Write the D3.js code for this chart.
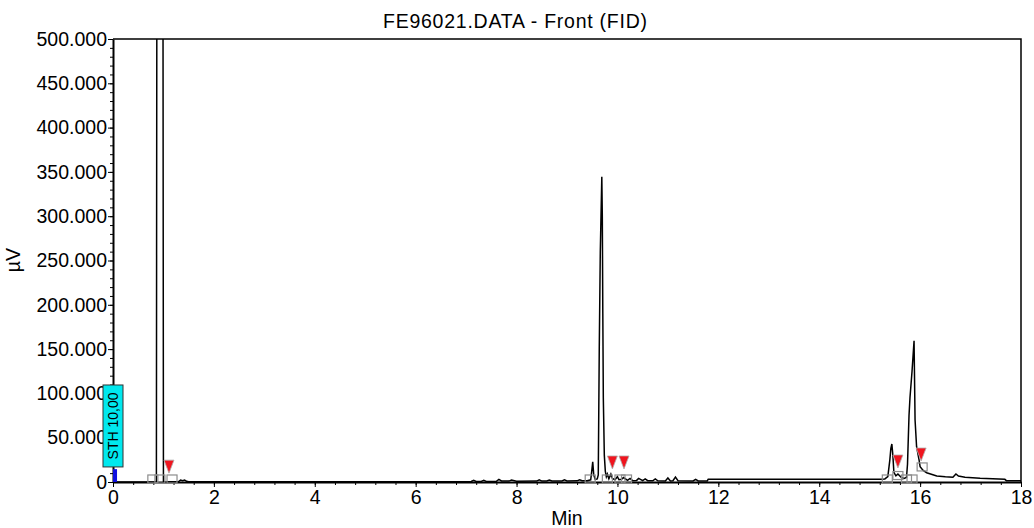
<!DOCTYPE html>
<html>
<head>
<meta charset="utf-8">
<script src="https://cdn.jsdelivr.net/npm/d3@7"></script>
<style>
  body { margin: 0; background: #fff; }
  text { font-family: "Liberation Sans", Arial, sans-serif; fill: #000; }
</style>
</head>
<body>
<div id="chart"></div>
<script>
// chromatogram trace, time in min / signal in µV
const traceTimes = [0, 0.86, 0.885, 0.975, 1.0, 1.3, 1.34, 1.38, 1.42, 1.46, 1.5, 4.0,
  7.1, 7.15, 7.2, 7.3, 7.35, 7.4, 7.6, 7.65, 7.7, 7.85, 7.9, 8.0, 8.4, 8.45, 8.5, 8.6, 8.65, 8.7,
  8.9, 8.95, 9.0, 9.2, 9.25, 9.3, 9.4, 9.47, 9.49, 9.51, 9.53, 9.56, 9.6, 9.62, 9.64, 9.66, 9.69,
  9.70, 9.71, 9.72, 9.74, 9.76, 9.78, 9.80, 9.83, 9.87, 9.9, 9.95, 10.0, 10.03, 10.08, 10.12,
  10.2, 10.25, 10.3, 10.38, 10.42, 10.5, 10.55, 10.6, 10.7, 10.75, 10.8, 10.95, 11.0, 11.05,
  11.1, 11.15, 11.2, 11.5, 11.55, 11.6, 11.78, 11.8, 13.0, 15.2, 15.3, 15.36, 15.4, 15.42,
  15.44, 15.46, 15.48, 15.52, 15.56, 15.62, 15.68, 15.73, 15.75, 15.78, 15.80, 15.84, 15.88,
  15.90, 15.93, 15.98, 16.0, 16.06, 16.13, 16.33, 16.5, 16.65, 16.71, 16.76, 16.89, 17.19,
  17.68, 17.71, 18.0];
const traceValues = [0, 0, 1500000, 1500000, 0, 500, 2200, 1500, 2200, 800, 300, 300,
  500, 1800, 600, 700, 2000, 700, 800, 3000, 1200, 1000, 2200, 900, 1000, 2500, 1000, 1100, 2300, 1100,
  1200, 2500, 1200, 1300, 2600, 1400, 1500, 2500, 12000, 22900, 8000, 3000, 3500, 8000, 152800, 260000, 344600,
  300000, 190000, 95000, 30000, 12000, 6000, 9000, 3500, 9000, 4000, 2500, 6000, 2500, 3000, 5000,
  1800, 4000, 1500, 1800, 4000, 1500, 3500, 1500, 1300, 3500, 1300, 1200, 4500, 1200,
  1500, 5500, 1500, 1200, 3000, 1200, 1200, 3200, 3200, 3200, 3500, 6000, 25000, 38000,
  42900, 30000, 11000, 7000, 9000, 5500, 4000, 5000, 20000, 75000, 96000, 125000, 159500,
  70000, 39800, 24800, 17300, 13000, 10500, 6800, 5800, 5300, 9000, 6700, 5300, 4100,
  3000, 1500, 1500];

// integration baseline marks (grey boxes) and peak marks (red triangles)
const boxTimes = [0.79, 0.93, 1.17, 9.46, 9.80, 10.05, 10.18, 15.35, 15.56, 15.73, 15.84, 16.04];
const boxValues = [3400, 3400, 3400, 3400, 3400, 3400, 3400, 3400, 7300, 3400, 3400, 17000];
const peakTimes = [1.11, 9.90, 10.13, 15.56, 16.02];
const peakValues = [10000, 14700, 14700, 15800, 23700];

const xTicks = [0, 2, 4, 6, 8, 10, 12, 14, 16, 18];
const yTicks = [0, 50000, 100000, 150000, 200000, 250000, 300000, 350000, 400000, 450000, 500000];
const stLabel = "STH 10,00";

const margin = {top: 39, right: 13, bottom: 46, left: 113},
    width = 1034 - margin.left - margin.right,
    height = 528 - margin.top - margin.bottom;

const svg = d3.select("#chart").append("svg")
    .attr("width", 1034)
    .attr("height", 528);

const x = d3.scaleLinear().domain([0, 18]).range([margin.left, margin.left + width]);
const y = d3.scaleLinear().domain([0, 500000]).range([margin.top + height, margin.top]);

const fmt = d3.formatLocale({decimal: ",", thousands: ".", grouping: [3], currency: ["", ""]}).format(",");

// title
svg.append("text")
    .attr("x", 515).attr("y", 28)
    .attr("text-anchor", "middle")
    .attr("textLength", 264)
    .style("font-size", "19.5px")
    .text("FE96021.DATA - Front (FID)");

// minor ticks
svg.append("g")
    .attr("transform", `translate(0, ${y(0)})`)
    .call(d3.axisBottom(x).tickValues(d3.range(0, 18.01, 0.4)).tickSize(3).tickFormat(""))
    .call(g => g.select(".domain").remove());
svg.append("g")
    .attr("transform", `translate(${x(0)}, 0)`)
    .call(d3.axisLeft(y).tickValues(d3.range(0, 500001, 10000)).tickSize(3).tickFormat(""))
    .call(g => g.select(".domain").remove());

// X axis
svg.append("g")
    .attr("transform", `translate(0, ${y(0)})`)
    .call(d3.axisBottom(x).tickValues(xTicks).tickSize(5).tickSizeOuter(0).tickPadding(3))
    .call(g => g.select(".domain").attr("stroke-width", 2))
    .call(g => g.selectAll("text").style("font-size", "19.5px"));

// Y axis
svg.append("g")
    .attr("transform", `translate(${x(0)}, 0)`)
    .call(d3.axisLeft(y).tickValues(yTicks).tickFormat(fmt).tickSize(5).tickSizeOuter(0).tickPadding(1))
    .call(g => g.select(".domain").attr("stroke-width", 2))
    .call(g => g.selectAll("text").style("font-size", "19.5px"));

// frame top / right
svg.append("path")
    .attr("fill", "none").attr("stroke", "#000").attr("stroke-width", 1.5)
    .attr("d", `M${x(0)},${y(500000)}H${x(18)}V${y(0)}`);

// axis titles
svg.append("text")
    .attr("x", x(9)).attr("y", 525)
    .attr("text-anchor", "middle")
    .style("font-size", "19.5px")
    .text("Min");
svg.append("text")
    .attr("transform", "translate(20, 260) rotate(-90)")
    .attr("text-anchor", "middle")
    .style("font-size", "19.5px")
    .text("µV");

// the trace
svg.append("clipPath").attr("id", "plot-clip")
  .append("rect")
    .attr("x", x(0)).attr("y", y(500000))
    .attr("width", width).attr("height", height);

const data = traceTimes.map((t, i) => ({t: t, v: traceValues[i]}));
svg.append("path")
    .datum(data)
    .attr("clip-path", "url(#plot-clip)")
    .attr("fill", "none")
    .attr("stroke", "#000")
    .attr("stroke-width", 1.5)
    .attr("d", d3.line()
      .x(function(d) { return x(d.t) })
      .y(function(d) { return y(d.v) }));

// baseline boxes
svg.append("g").selectAll("rect")
    .data(boxTimes.map((t, i) => ({t: t, v: boxValues[i]})))
    .join("rect")
    .attr("x", d => x(d.t) - 5).attr("y", d => y(d.v) - 4)
    .attr("width", 10).attr("height", 8)
    .attr("fill", "none").attr("stroke", "#8c8c8c").attr("stroke-width", 1.2);

// peak triangles
svg.append("g").selectAll("path")
    .data(peakTimes.map((t, i) => ({t: t, v: peakValues[i]})))
    .join("path")
    .attr("d", d => `M${x(d.t) - 5},${y(d.v) - 13}L${x(d.t) + 5},${y(d.v) - 13}L${x(d.t)},${y(d.v)}Z`)
    .attr("fill", "#f0141e").attr("stroke", "#b0b0b0").attr("stroke-width", 0.8);

// start marker at t = 0
svg.append("rect")
    .attr("x", x(0)).attr("y", y(14500))
    .attr("width", x(0.08) - x(0)).attr("height", y(0) - y(14500))
    .attr("fill", "#1010e0");

const boxTop = y(109500), boxBottom = y(17000);
svg.append("rect")
    .attr("x", x(0) - 10).attr("y", boxTop)
    .attr("width", 20).attr("height", boxBottom - boxTop)
    .attr("fill", "#00e8ee").attr("stroke", "#333").attr("stroke-width", 1);
svg.append("text")
    .attr("transform", `translate(${x(0) + 5}, ${(boxTop + boxBottom) / 2}) rotate(-90)`)
    .attr("text-anchor", "middle")
    .style("font-size", "14px")
    .text(stLabel);
</script>
</body>
</html>
